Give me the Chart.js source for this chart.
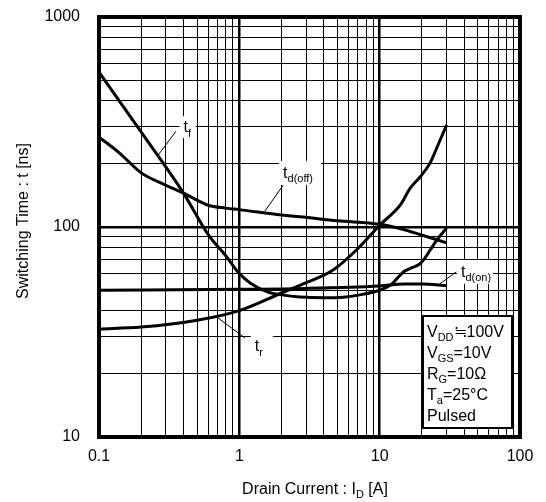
<!DOCTYPE html>
<html>
<head>
<meta charset="utf-8">
<script src="https://cdn.jsdelivr.net/npm/chart.js@4.4.1/dist/chart.umd.min.js"></script>
<style>
  html, body { margin: 0; padding: 0; background: #fff; }
  #wrap { width: 546px; height: 502px; }
</style>
</head>
<body>
<div id="wrap"><canvas id="myChart"></canvas></div>
<script>
// drain current I_D [A] / switching time [ns]
const tfX = [0.1, 0.2, 0.4, 0.6, 0.8, 1.0, 1.2, 1.6, 2.0, 2.7, 4.0, 5.5, 7.2, 10, 12, 13.5, 15, 17, 19.5, 21, 23, 26, 30];
const tfY = [547, 283, 145, 92, 73, 60, 54, 49, 47.5, 46.4, 46, 46.3, 47.5, 50, 53, 57.5, 61.5, 64, 67, 71, 78, 88, 99];

const trX = [0.1, 0.2, 0.5, 1.0, 2.0, 3.0, 4.66, 7.0, 10, 14, 16.5, 19.4, 22.9, 26, 30];
const trY = [32.7, 33.4, 36, 40, 48.5, 54.3, 62.4, 79, 102, 127, 153, 173, 202, 245, 306];

const tdoffX = [0.1, 0.14, 0.2, 0.3, 0.4, 0.6, 0.8, 1.0, 2.0, 2.7, 5.0, 10, 15, 18.5, 30];
const tdoffY = [268, 225, 181, 158, 145, 127, 123, 121, 114, 112, 107, 103, 97, 93, 84];

const tdonX = [0.1, 1.0, 3.0, 10, 15, 20, 30];
const tdonY = [50, 50.5, 51, 52.4, 53.5, 53.5, 52.5];

const xTickValues = [0.1, 0.2, 0.3, 0.4, 0.5, 0.6, 0.7, 0.8, 0.9, 1, 2, 3, 4, 5, 6, 7, 8, 9, 10, 20, 30, 40, 50, 60, 70, 80, 90, 100];
const xTickLabels = ['0.1', '1', '10', '100'];
const yTickValues = [10, 20, 30, 40, 50, 60, 70, 80, 90, 100, 200, 300, 400, 500, 600, 700, 800, 900, 1000];
const yTickLabels = ['10', '100', '1000'];

const conditions = [
  [['V'], ['DD', 1], ['\u2252100V']],
  [['V'], ['GS', 1], ['=10V']],
  [['R'], ['G', 1], ['=10\u03A9']],
  [['T'], ['a', 1], ['=25\u00B0C']],
  [['Pulsed']],
];

// curve labels: text anchor (data units), leader from/to, white patch size
const curveLabels = [
  { main: 't', sub: 'f', at: [0.40, 299], from: [0.264, 220], to: [0.354, 286], box: [16, 22] },
  { main: 't', sub: 'd(off)', at: [2.05, 181], from: [1.52, 119], to: [2.05, 158], box: [42, 24] },
  { main: 't', sub: 'r', at: [1.29, 27.1], from: [0.705, 36.9], to: [1.098, 29.6], box: [22, 25] },
  { main: 't', sub: 'd(on)', at: [38, 61.1], from: [25.6, 52.4], to: [35.1, 61.1], box: [36, 24] },
];

const FONT = 'Liberation Sans, Arial, sans-serif';

function isDecade(v) {
  const l = Math.log10(v);
  return Math.abs(l - Math.round(l)) < 1e-9;
}

function pts(xs, ys) {
  return xs.map((x, i) => ({ x: x, y: ys[i] }));
}

function drawRich(ctx, x, y, parts, size) {
  // y = baseline; parts: [text, isSub]
  let cx = x;
  parts.forEach((p) => {
    const sub = p[1];
    ctx.font = (sub ? Math.round(size * 0.7) : size) + 'px ' + FONT;
    ctx.fillText(p[0], cx, sub ? y + size * 0.28 : y);
    cx += ctx.measureText(p[0]).width;
  });
  return cx - x;
}

function richWidth(ctx, parts, size) {
  let w = 0;
  parts.forEach((p) => {
    ctx.font = (p[1] ? Math.round(size * 0.7) : size) + 'px ' + FONT;
    w += ctx.measureText(p[0]).width;
  });
  return w;
}

const decorations = {
  id: 'decorations',
  beforeDatasetsDraw(chart) {
    const ctx = chart.ctx;
    const xs = chart.scales.x, ys = chart.scales.y;
    ctx.save();
    ctx.fillStyle = '#fff';
    curveLabels.forEach((l) => {
      const px = xs.getPixelForValue(l.at[0]);
      const py = ys.getPixelForValue(l.at[1]);
      ctx.fillRect(px - 4, py - l.box[1] / 2, l.box[0], l.box[1]);
    });
    ctx.restore();
  },
  afterDatasetsDraw(chart) {
    const ctx = chart.ctx;
    const a = chart.chartArea;
    const xs = chart.scales.x, ys = chart.scales.y;
    ctx.save();

    // leaders + labels
    ctx.strokeStyle = '#000';
    ctx.lineWidth = 1;
    ctx.fillStyle = '#000';
    ctx.textBaseline = 'alphabetic';
    ctx.textAlign = 'left';
    curveLabels.forEach((l) => {
      ctx.beginPath();
      ctx.moveTo(xs.getPixelForValue(l.from[0]), ys.getPixelForValue(l.from[1]));
      ctx.lineTo(xs.getPixelForValue(l.to[0]), ys.getPixelForValue(l.to[1]));
      ctx.stroke();
      const px = xs.getPixelForValue(l.at[0]);
      const py = ys.getPixelForValue(l.at[1]);
      drawRich(ctx, px, py + 5, [[l.main], [l.sub, 1]], 16);
    });

    // conditions box
    const bw = 89, bh = 112;
    const bx = a.right - 8 - bw, by = a.bottom - 9 - bh;
    ctx.fillStyle = '#fff';
    ctx.fillRect(bx, by, bw, bh);
    ctx.lineWidth = 2;
    ctx.strokeRect(bx, by, bw, bh);
    ctx.fillStyle = '#000';
    conditions.forEach((line, i) => {
      drawRich(ctx, bx + 4, by + 21 + i * 21, line, 16);
    });

    // frame
    ctx.lineWidth = 4;
    ctx.strokeRect(a.left, a.top, a.right - a.left, a.bottom - a.top);

    // axis titles
    const xt = [['Drain Current : I'], ['D', 1], [' [A]']];
    const w = richWidth(ctx, xt, 16);
    drawRich(ctx, 315 - w / 2, 494, xt, 16);

    ctx.translate(28, 221);
    ctx.rotate(-Math.PI / 2);
    ctx.font = '16px ' + FONT;
    ctx.textAlign = 'center';
    ctx.fillText('Switching Time : t [ns]', 0, 0);
    ctx.restore();
  },
};

const ctx = document.getElementById('myChart').getContext('2d');

const line = (xs, ys) => ({
  data: pts(xs, ys),
  borderColor: '#000',
  borderWidth: 3,
  pointRadius: 0,
  fill: false,
  cubicInterpolationMode: 'monotone',
});

const myChart = new Chart(ctx, {
  type: 'line',
  data: {
    datasets: [line(tfX, tfY), line(trX, trY), line(tdoffX, tdoffY), line(tdonX, tdonY)],
  },
  plugins: [decorations],
  options: {
    responsive: true,
    maintainAspectRatio: false,
    animation: false,
    layout: { padding: { top: 17, right: 26, bottom: 0, left: 0 } },
    plugins: {
      legend: { display: false },
      tooltip: { enabled: false },
    },
    scales: {
      x: {
        type: 'logarithmic',
        min: 0.1,
        max: 100,
        afterBuildTicks: (scale) => {
          scale.ticks = xTickValues.map((v) => ({ value: v }));
        },
        afterFit: (scale) => {
          scale.height = 65;
          scale.paddingLeft = 0;
          scale.paddingRight = 0;
        },
        ticks: {
          autoSkip: false,
          maxRotation: 0,
          padding: 10,
          color: '#000',
          font: { family: FONT, size: 16 },
          callback: (v) => (isDecade(v) ? xTickLabels[Math.round(Math.log10(v)) + 1] : ''),
        },
        grid: {
          color: '#000',
          lineWidth: (c) => (c.tick && isDecade(c.tick.value) ? 2.5 : 1),
          drawTicks: false,
        },
        border: { display: false },
      },
      y: {
        type: 'logarithmic',
        min: 10,
        max: 1000,
        afterBuildTicks: (scale) => {
          scale.ticks = yTickValues.map((v) => ({ value: v }));
        },
        afterFit: (scale) => {
          scale.width = 99;
          scale.paddingTop = 0;
          scale.paddingBottom = 0;
        },
        ticks: {
          autoSkip: false,
          padding: 19,
          color: '#000',
          font: { family: FONT, size: 16 },
          callback: (v) => (isDecade(v) ? yTickLabels[Math.round(Math.log10(v)) - 1] : ''),
        },
        grid: {
          color: '#000',
          lineWidth: (c) => (c.tick && isDecade(c.tick.value) ? 2.5 : 1),
          drawTicks: false,
        },
        border: { display: false },
      },
    },
  },
});
</script>
</body>
</html>
